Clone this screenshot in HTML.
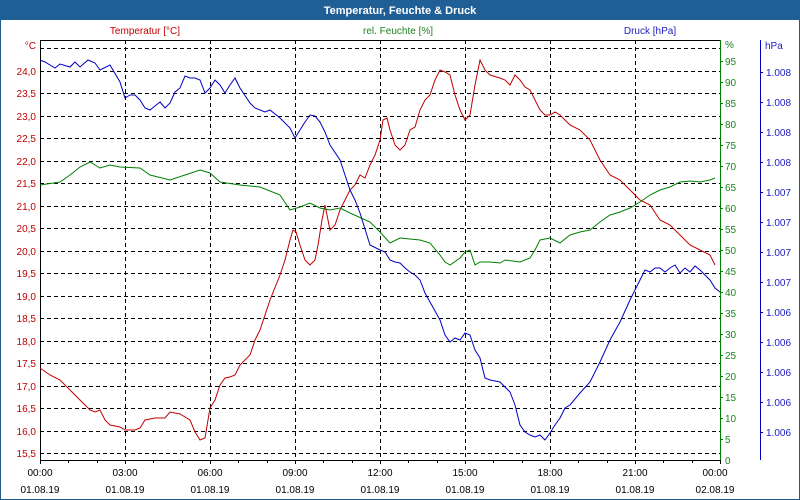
<!DOCTYPE html>
<html><head><meta charset="utf-8"><style>
body{margin:0;background:#fff}
svg{display:block;font-family:"Liberation Sans",sans-serif;font-size:10px}
</style></head><body>
<svg width="800" height="500" viewBox="0 0 800 500">
<rect x="0" y="0" width="800" height="500" fill="#fff"/>
<rect x="0.5" y="0.5" width="799" height="499" fill="none" stroke="#1f5a8c"/>
<rect x="0" y="0" width="800" height="20" fill="#1f5f96"/>
<text x="400" y="14" text-anchor="middle" fill="#fff" font-weight="bold" font-size="11">Temperatur, Feuchte &amp; Druck</text>
<text x="145" y="34" text-anchor="middle" fill="#c00000">Temperatur [°C]</text>
<text x="398" y="34" text-anchor="middle" fill="#208020">rel. Feuchte [%]</text>
<text x="650" y="34" text-anchor="middle" fill="#2020c0">Druck [hPa]</text>
<g id="grid" stroke="#000" stroke-dasharray="4,3" stroke-width="1">
</g>
<g stroke="#000" stroke-dasharray="4,3">
<line x1="40" y1="48.5" x2="720" y2="48.5"/><line x1="40" y1="71.5" x2="720" y2="71.5"/><line x1="40" y1="93.5" x2="720" y2="93.5"/><line x1="40" y1="116.5" x2="720" y2="116.5"/><line x1="40" y1="138.5" x2="720" y2="138.5"/><line x1="40" y1="161.5" x2="720" y2="161.5"/><line x1="40" y1="183.5" x2="720" y2="183.5"/><line x1="40" y1="206.5" x2="720" y2="206.5"/><line x1="40" y1="228.5" x2="720" y2="228.5"/><line x1="40" y1="251.5" x2="720" y2="251.5"/><line x1="40" y1="273.5" x2="720" y2="273.5"/><line x1="40" y1="296.5" x2="720" y2="296.5"/><line x1="40" y1="318.5" x2="720" y2="318.5"/><line x1="40" y1="341.5" x2="720" y2="341.5"/><line x1="40" y1="363.5" x2="720" y2="363.5"/><line x1="40" y1="386.5" x2="720" y2="386.5"/><line x1="40" y1="408.5" x2="720" y2="408.5"/><line x1="40" y1="431.5" x2="720" y2="431.5"/><line x1="40" y1="453.5" x2="720" y2="453.5"/>
<line x1="125.5" y1="40" x2="125.5" y2="460"/><line x1="210.5" y1="40" x2="210.5" y2="460"/><line x1="295.5" y1="40" x2="295.5" y2="460"/><line x1="380.5" y1="40" x2="380.5" y2="460"/><line x1="465.5" y1="40" x2="465.5" y2="460"/><line x1="550.5" y1="40" x2="550.5" y2="460"/><line x1="635.5" y1="40" x2="635.5" y2="460"/>
</g>
<line x1="40" y1="40.5" x2="720" y2="40.5" stroke="#000"/>
<line x1="40.5" y1="40" x2="40.5" y2="460" stroke="#000"/>
<line x1="40" y1="460.5" x2="720" y2="460.5" stroke="#000"/>
<line x1="720.5" y1="40" x2="720.5" y2="461" stroke="#008000"/>
<line x1="760.5" y1="40" x2="760.5" y2="460" stroke="#0000c0"/>
<g fill="#c00000" text-anchor="end">
<text x="36" y="49">°C</text><text x="36" y="75">24,0</text><text x="36" y="97">23,5</text><text x="36" y="120">23,0</text><text x="36" y="142">22,5</text><text x="36" y="165">22,0</text><text x="36" y="187">21,5</text><text x="36" y="210">21,0</text><text x="36" y="232">20,5</text><text x="36" y="255">20,0</text><text x="36" y="277">19,5</text><text x="36" y="300">19,0</text><text x="36" y="322">18,5</text><text x="36" y="345">18,0</text><text x="36" y="367">17,5</text><text x="36" y="390">17,0</text><text x="36" y="412">16,5</text><text x="36" y="435">16,0</text><text x="36" y="457">15,5</text>
</g>
<g fill="#208020">
<text x="725" y="48">%</text><text x="725" y="65">95</text><text x="725" y="86">90</text><text x="725" y="107">85</text><text x="725" y="128">80</text><text x="725" y="149">75</text><text x="725" y="170">70</text><text x="725" y="191">65</text><text x="725" y="212">60</text><text x="725" y="233">55</text><text x="725" y="254">50</text><text x="725" y="275">45</text><text x="725" y="296">40</text><text x="725" y="317">35</text><text x="725" y="338">30</text><text x="725" y="359">25</text><text x="725" y="380">20</text><text x="725" y="401">15</text><text x="725" y="422">10</text><text x="725" y="443">5</text><text x="725" y="464">0</text>
</g>
<g stroke="#008000"><path d="M720 61.5h3M720 82.5h3M720 103.5h3M720 124.5h3M720 145.5h3M720 166.5h3M720 187.5h3M720 208.5h3M720 229.5h3M720 250.5h3M720 271.5h3M720 292.5h3M720 313.5h3M720 334.5h3M720 355.5h3M720 376.5h3M720 397.5h3M720 418.5h3M720 439.5h3"/></g>
<g fill="#2020c0">
<text x="765" y="49">hPa</text>
<text x="766" y="76">1.008</text><text x="766" y="106">1.008</text><text x="766" y="136">1.008</text><text x="766" y="166">1.008</text><text x="766" y="196">1.007</text><text x="766" y="226">1.007</text><text x="766" y="256">1.007</text><text x="766" y="286">1.007</text><text x="766" y="316">1.006</text><text x="766" y="346">1.006</text><text x="766" y="376">1.006</text><text x="766" y="406">1.006</text><text x="766" y="436">1.006</text>
</g>
<g stroke="#0000c0"><path d="M760 72.5h3M760 102.5h3M760 132.5h3M760 162.5h3M760 192.5h3M760 222.5h3M760 252.5h3M760 282.5h3M760 312.5h3M760 342.5h3M760 372.5h3M760 402.5h3M760 432.5h3"/></g>
<g stroke="#000"><path d="M40.5 460v4M68.5 460v3M97.5 460v3M125.5 460v4M153.5 460v3M182.5 460v3M210.5 460v4M238.5 460v3M267.5 460v3M295.5 460v4M323.5 460v3M352.5 460v3M380.5 460v4M408.5 460v3M437.5 460v3M465.5 460v4M493.5 460v3M522.5 460v3M550.5 460v4M578.5 460v3M607.5 460v3M635.5 460v4M663.5 460v3M692.5 460v3M720.5 460v4"/></g>
<g fill="#000" text-anchor="middle">
<text x="40" y="476">00:00</text><text x="40" y="493">01.08.19</text>
<text x="125" y="476">03:00</text><text x="125" y="493">01.08.19</text>
<text x="210" y="476">06:00</text><text x="210" y="493">01.08.19</text>
<text x="295" y="476">09:00</text><text x="295" y="493">01.08.19</text>
<text x="380" y="476">12:00</text><text x="380" y="493">01.08.19</text>
<text x="465" y="476">15:00</text><text x="465" y="493">01.08.19</text>
<text x="550" y="476">18:00</text><text x="550" y="493">01.08.19</text>
<text x="635" y="476">21:00</text><text x="635" y="493">01.08.19</text>
<text x="715" y="476">00:00</text><text x="715" y="493">02.08.19</text>
</g>
<polyline fill="none" stroke="#c00000" points="40,368 50,375 60,380 70,390 80,400 90,410 95,412 100,410 105,420 110,425 120,427 125,430 135,430 140,428 145,420 155,418 165,418 170,412 180,414 190,420 195,432 200,440 205,438 210,408 215,400 220,385 225,378 230,377 235,375 240,365 250,355 255,340 260,330 265,315 270,300 280,275 285,260 290,240 293,230 296,232 300,245 305,260 310,265 315,260 318,245 322,220 325,205 330,230 335,225 340,210 345,200 350,190 355,185 360,175 365,178 370,165 375,155 380,140 383,120 387,118 390,130 395,145 400,150 405,145 410,130 415,127 420,110 425,100 430,95 435,80 440,70 445,72 450,75 455,95 460,110 465,120 470,115 475,85 480,60 485,70 490,75 500,78 505,80 510,85 515,75 520,80 525,87 530,90 540,110 545,115 550,115 555,112 560,115 565,120 570,125 580,130 590,140 600,160 610,175 620,180 630,190 640,200 650,205 660,220 670,225 680,235 690,245 700,250 710,255 715,265"/>
<polyline fill="none" stroke="#008000" points="40,185 60,182 70,175 80,167 90,162 100,168 110,165 120,167 140,168 150,175 170,180 185,175 200,170 210,173 220,182 240,185 250,186 260,187 280,195 290,210 300,207 310,203 320,208 330,210 340,208 350,213 370,222 380,232 390,243 400,238 420,240 430,243 440,255 445,262 450,265 460,258 465,252 470,250 475,265 480,262 490,262 500,263 505,260 520,262 530,258 535,250 540,240 550,238 560,243 570,235 580,232 590,230 600,222 610,215 620,212 630,208 640,202 650,195 660,190 670,187 680,182 690,181 700,182 710,180 715,178"/>
<polyline fill="none" stroke="#0000c0" points="40,60 45,62 55,68 60,64 70,67 75,62 80,67 88,60 95,63 100,70 110,65 120,82 125,98 130,95 135,95 140,100 145,108 150,110 155,106 160,102 165,108 170,103 175,92 180,88 185,76 190,78 195,78 200,80 205,93 210,88 215,80 220,85 225,93 230,85 235,78 240,88 250,103 255,108 265,112 270,110 280,118 290,128 295,138 300,130 305,122 310,115 315,116 320,122 325,132 330,145 340,160 345,175 350,190 355,200 360,213 370,245 380,250 385,252 390,260 395,262 400,263 405,268 410,272 415,275 420,280 425,293 430,302 440,320 445,335 450,342 455,338 460,340 465,333 470,335 475,350 480,358 485,378 490,380 500,382 510,392 515,405 520,425 525,432 530,435 535,437 540,435 545,440 550,433 555,425 560,418 565,408 570,405 580,393 590,382 600,362 610,340 620,322 630,300 640,280 645,270 650,272 655,268 660,268 665,272 670,268 675,265 680,273 685,268 690,272 695,266 700,270 705,275 710,280 715,288 720,292"/>
</svg>
</body></html>
